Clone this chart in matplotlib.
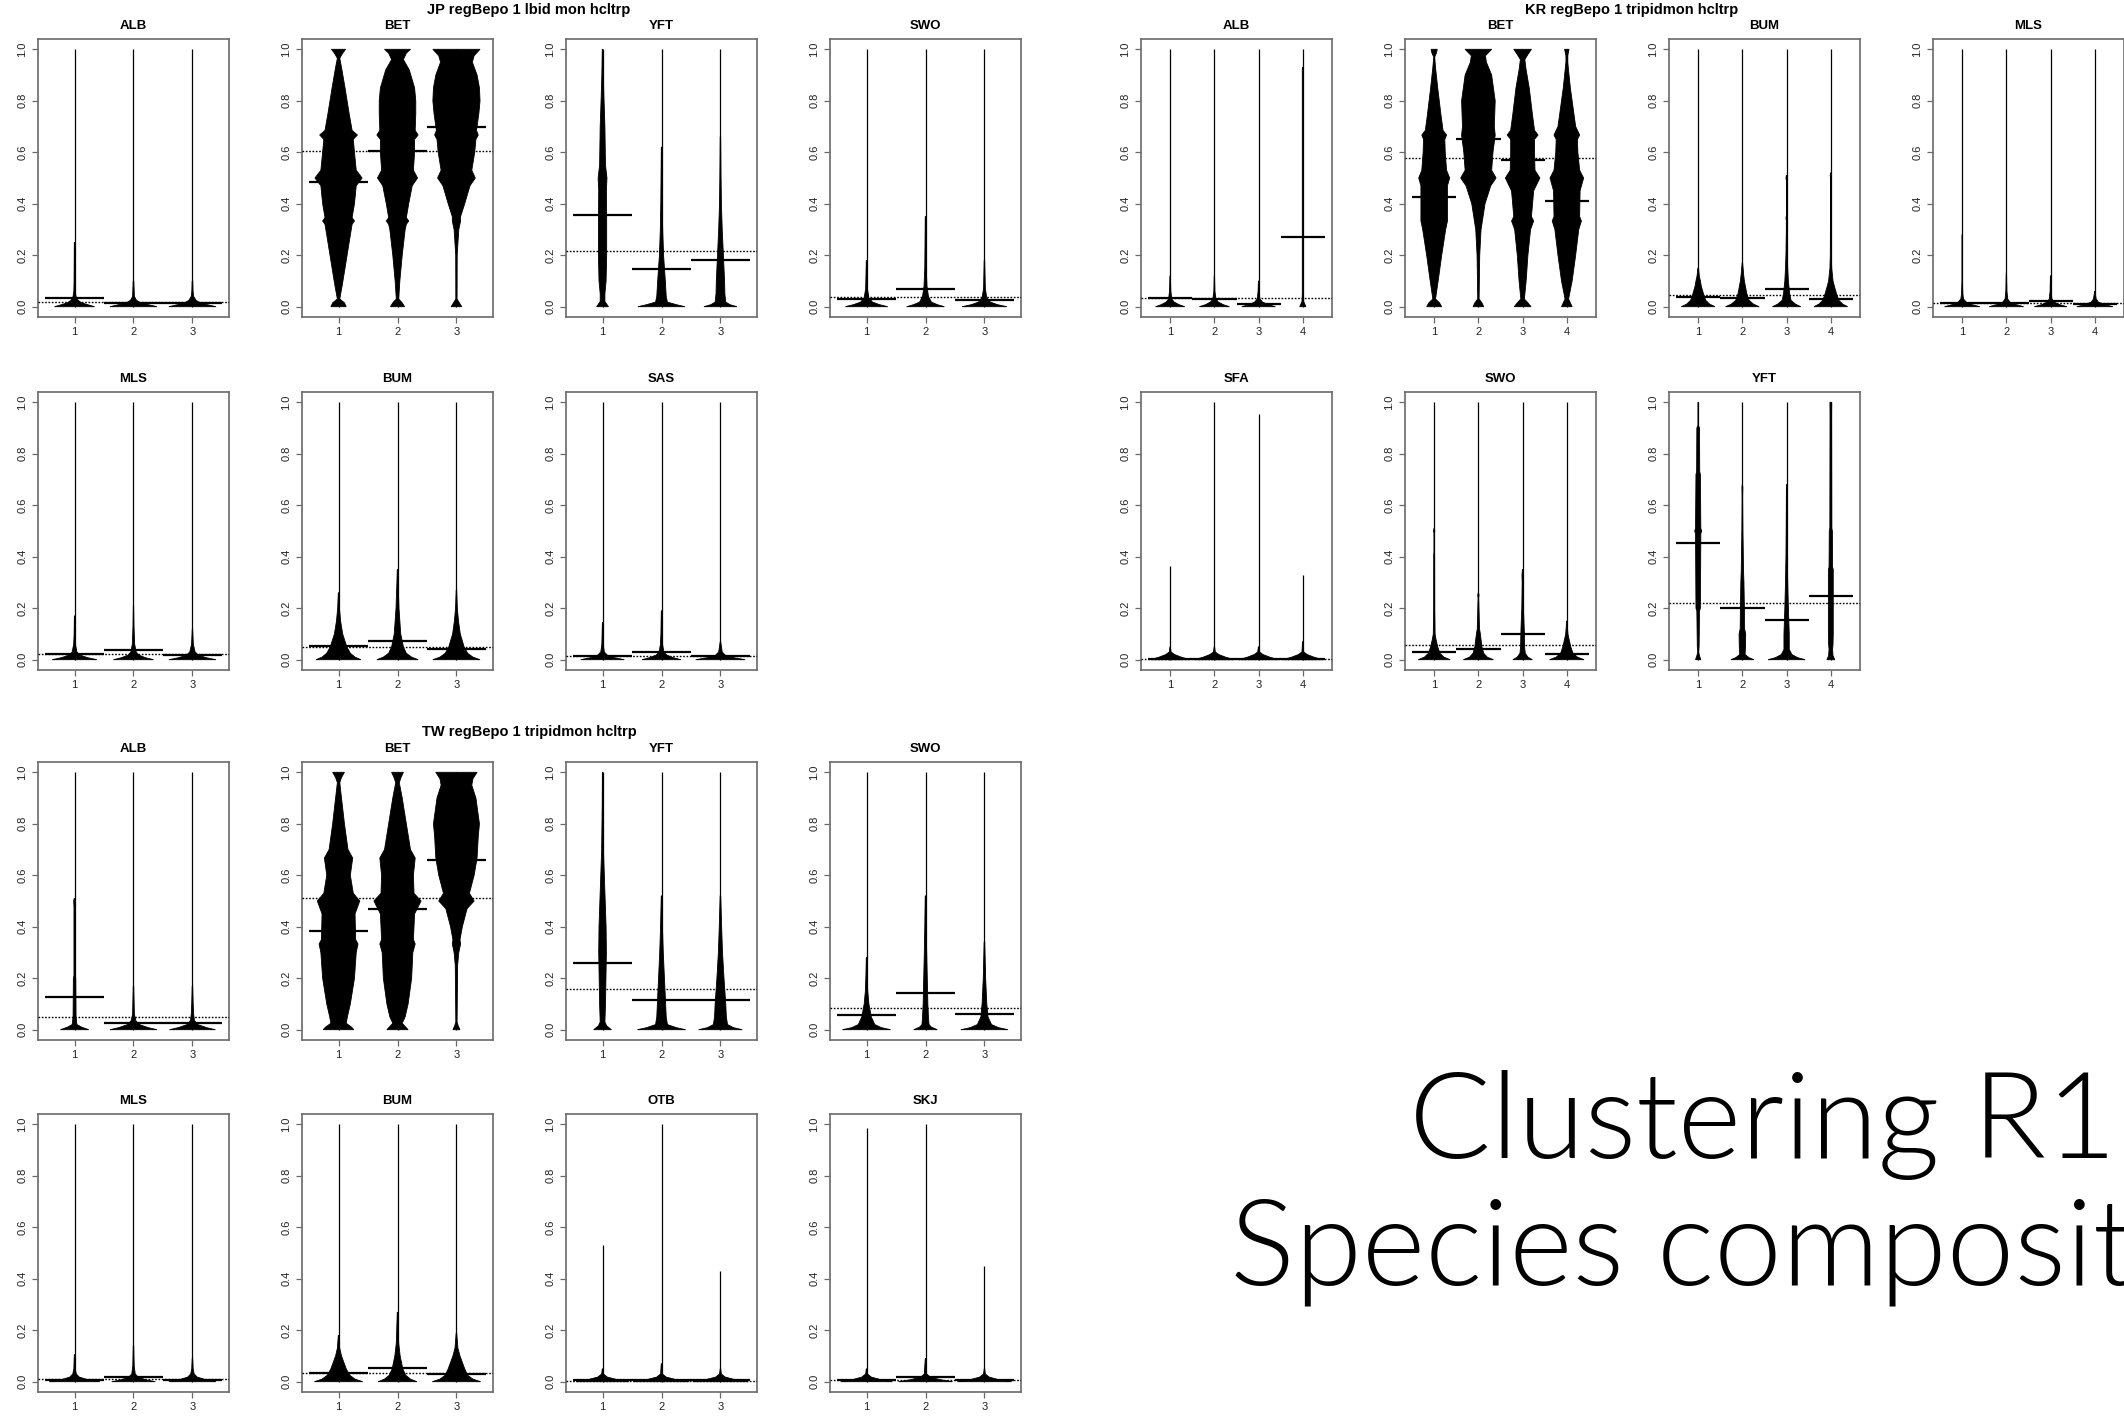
import matplotlib
matplotlib.use('Agg')
import matplotlib.pyplot as plt
from matplotlib import font_manager

plt.rcParams['font.family'] = ['Liberation Sans', 'DejaVu Sans']

# ---------------- data ----------------
# each bean: list of (y, half-width) profile points; TOPS = max value of the thin line
JP_ALB_MEANS = [0.035, 0.015, 0.013]; JP_ALB_OVERALL = 0.018; JP_ALB_TOPS = [1, 1, 1]
JP_ALB_BEANS = [
    [(0, 0.34), (0.008, 0.22), (0.015, 0.12), (0.025, 0.06), (0.04, 0.025), (0.06, 0.012), (0.1, 0.008), (0.25, 0.004)],
    [(0, 0.40), (0.008, 0.25), (0.015, 0.12), (0.025, 0.05), (0.04, 0.015), (0.1, 0.005)],
    [(0, 0.40), (0.008, 0.25), (0.015, 0.13), (0.025, 0.06), (0.04, 0.02), (0.06, 0.01), (0.1, 0.005)],
]
JP_BET_MEANS = [0.483, 0.605, 0.70]; JP_BET_OVERALL = 0.603; JP_BET_TOPS = [1, 1, 1]
JP_BET_BEANS = [
    [(0, 0.13), (0.015, 0.1), (0.03, 0.02), (0.08, 0.06), (0.15, 0.11), (0.25, 0.18), (0.32, 0.23), (0.333, 0.27), (0.346, 0.23),
     (0.4, 0.27), (0.47, 0.3), (0.5, 0.4), (0.53, 0.3), (0.6, 0.27), (0.65, 0.25), (0.667, 0.32), (0.685, 0.23), (0.75, 0.18),
     (0.85, 0.11), (0.93, 0.05), (0.965, 0.02), (0.985, 0.07), (1.0, 0.12)],
    [(0, 0.12), (0.015, 0.08), (0.03, 0.02), (0.1, 0.04), (0.2, 0.08), (0.3, 0.13), (0.32, 0.15), (0.333, 0.19), (0.346, 0.15),
     (0.4, 0.19), (0.47, 0.25), (0.5, 0.34), (0.53, 0.27), (0.6, 0.29), (0.65, 0.29), (0.667, 0.35), (0.685, 0.3), (0.75, 0.31),
     (0.8, 0.31), (0.85, 0.29), (0.92, 0.2), (0.96, 0.1), (0.985, 0.15), (1.0, 0.22)],
    [(0, 0.09), (0.015, 0.05), (0.03, 0.01), (0.2, 0.012), (0.3, 0.04), (0.333, 0.07), (0.35, 0.07), (0.4, 0.14), (0.47, 0.23),
     (0.5, 0.32), (0.53, 0.26), (0.6, 0.31), (0.65, 0.33), (0.667, 0.37), (0.685, 0.34), (0.75, 0.38), (0.8, 0.4), (0.85, 0.39),
     (0.9, 0.35), (0.95, 0.27), (0.975, 0.3), (1.0, 0.4)],
]
JP_YFT_MEANS = [0.355, 0.145, 0.18]; JP_YFT_OVERALL = 0.218; JP_YFT_TOPS = [1, 1, 1]
JP_YFT_BEANS = [
    [(0, 0.1), (0.02, 0.04), (0.05, 0.04), (0.1, 0.06), (0.2, 0.07), (0.35, 0.07), (0.45, 0.065), (0.5, 0.075), (0.55, 0.05),
     (0.7, 0.04), (0.8, 0.025), (0.9, 0.012), (1.0, 0.005)],
    [(0, 0.40), (0.008, 0.25), (0.018, 0.1), (0.04, 0.08), (0.1, 0.065), (0.15, 0.05), (0.2, 0.035), (0.3, 0.02), (0.4, 0.012),
     (0.5, 0.008), (0.62, 0.003)],
    [(0, 0.28), (0.008, 0.16), (0.018, 0.09), (0.05, 0.075), (0.1, 0.07), (0.2, 0.05), (0.3, 0.03), (0.4, 0.016), (0.5, 0.01),
     (0.66, 0.004)],
]
JP_SWO_MEANS = [0.03, 0.07, 0.025]; JP_SWO_OVERALL = 0.037; JP_SWO_TOPS = [1, 1, 1]
JP_SWO_BEANS = [
    [(0, 0.36), (0.008, 0.22), (0.018, 0.1), (0.035, 0.04), (0.07, 0.015), (0.18, 0.004)],
    [(0, 0.32), (0.008, 0.2), (0.018, 0.1), (0.04, 0.05), (0.08, 0.025), (0.15, 0.012), (0.35, 0.004)],
    [(0, 0.38), (0.008, 0.22), (0.018, 0.1), (0.035, 0.04), (0.07, 0.015), (0.18, 0.004)],
]
JP_MLS_MEANS = [0.022, 0.039, 0.019]; JP_MLS_OVERALL = 0.022; JP_MLS_TOPS = [1, 1, 1]
JP_MLS_BEANS = [
    [(0, 0.38), (0.008, 0.22), (0.018, 0.09), (0.03, 0.04), (0.06, 0.015), (0.1, 0.007), (0.17, 0.003)],
    [(0, 0.34), (0.008, 0.2), (0.018, 0.09), (0.03, 0.045), (0.06, 0.02), (0.13, 0.008), (0.21, 0.003)],
    [(0, 0.40), (0.008, 0.23), (0.018, 0.1), (0.03, 0.045), (0.06, 0.015), (0.12, 0.003)],
]
JP_BUM_MEANS = [0.054, 0.073, 0.041]; JP_BUM_OVERALL = 0.051; JP_BUM_TOPS = [1, 1, 1]
JP_BUM_BEANS = [
    [(0, 0.38), (0.01, 0.28), (0.025, 0.2), (0.05, 0.14), (0.1, 0.07), (0.15, 0.035), (0.2, 0.015), (0.26, 0.004)],
    [(0, 0.35), (0.01, 0.24), (0.025, 0.15), (0.05, 0.1), (0.1, 0.055), (0.2, 0.025), (0.3, 0.01), (0.35, 0.004)],
    [(0, 0.40), (0.01, 0.28), (0.025, 0.19), (0.05, 0.13), (0.1, 0.065), (0.15, 0.035), (0.2, 0.015), (0.27, 0.004)],
]
JP_SAS_MEANS = [0.013, 0.031, 0.013]; JP_SAS_OVERALL = 0.015; JP_SAS_TOPS = [1, 1, 1]
JP_SAS_BEANS = [
    [(0, 0.37), (0.008, 0.2), (0.018, 0.08), (0.03, 0.03), (0.06, 0.012), (0.145, 0.003)],
    [(0, 0.33), (0.008, 0.2), (0.018, 0.09), (0.03, 0.04), (0.06, 0.018), (0.1, 0.01), (0.19, 0.003)],
    [(0, 0.42), (0.008, 0.22), (0.018, 0.08), (0.03, 0.03), (0.07, 0.004)],
]

KR_ALB_MEANS = [0.035, 0.028, 0.012, 0.27]; KR_ALB_OVERALL = 0.032; KR_ALB_TOPS = [1, 1, 1, 1]
KR_ALB_BEANS = [
    [(0, 0.33), (0.008, 0.2), (0.018, 0.09), (0.03, 0.035), (0.06, 0.015), (0.12, 0.005)],
    [(0, 0.34), (0.008, 0.2), (0.018, 0.09), (0.03, 0.035), (0.06, 0.012), (0.12, 0.004)],
    [(0, 0.38), (0.008, 0.22), (0.018, 0.09), (0.03, 0.03), (0.06, 0.012), (0.10, 0.004)],
    [(0, 0.07), (0.02, 0.02), (0.05, 0.012), (0.92, 0.012), (0.93, 0.005)],
]
KR_BET_MEANS = [0.425, 0.65, 0.57, 0.41]; KR_BET_OVERALL = 0.578; KR_BET_TOPS = [1, 1, 1, 1]
KR_BET_BEANS = [
    [(0, 0.17), (0.015, 0.12), (0.03, 0.03), (0.1, 0.09), (0.2, 0.17), (0.3, 0.26), (0.333, 0.3), (0.4, 0.3), (0.47, 0.3),
     (0.5, 0.35), (0.53, 0.28), (0.6, 0.25), (0.65, 0.24), (0.667, 0.28), (0.685, 0.2), (0.75, 0.15), (0.85, 0.08),
     (0.93, 0.03), (0.97, 0.01), (0.985, 0.05), (1.0, 0.07)],
    [(0, 0.12), (0.015, 0.08), (0.03, 0.015), (0.2, 0.03), (0.3, 0.06), (0.333, 0.09), (0.4, 0.15), (0.47, 0.28), (0.5, 0.4),
     (0.53, 0.3), (0.6, 0.33), (0.667, 0.38), (0.7, 0.36), (0.8, 0.38), (0.9, 0.3), (0.95, 0.18), (0.975, 0.16), (1.0, 0.3)],
    [(0, 0.19), (0.015, 0.12), (0.03, 0.04), (0.1, 0.08), (0.2, 0.12), (0.3, 0.18), (0.333, 0.25), (0.35, 0.2), (0.45, 0.25),
     (0.5, 0.39), (0.53, 0.28), (0.6, 0.27), (0.65, 0.27), (0.667, 0.35), (0.685, 0.27), (0.75, 0.22), (0.85, 0.15),
     (0.92, 0.08), (0.96, 0.05), (0.98, 0.12), (1.0, 0.2)],
    [(0, 0.12), (0.015, 0.08), (0.03, 0.04), (0.1, 0.12), (0.2, 0.2), (0.3, 0.27), (0.333, 0.33), (0.35, 0.29), (0.45, 0.3),
     (0.5, 0.38), (0.53, 0.29), (0.6, 0.25), (0.65, 0.24), (0.667, 0.29), (0.7, 0.2), (0.75, 0.16), (0.85, 0.08),
     (0.95, 0.02), (0.975, 0.02), (1.0, 0.05)],
]
KR_BUM_MEANS = [0.037, 0.033, 0.067, 0.031]; KR_BUM_OVERALL = 0.044; KR_BUM_TOPS = [1, 1, 1, 1]
KR_BUM_BEANS = [
    [(0, 0.38), (0.01, 0.26), (0.025, 0.17), (0.05, 0.12), (0.08, 0.07), (0.1, 0.05), (0.12, 0.025), (0.15, 0.008)],
    [(0, 0.38), (0.01, 0.25), (0.025, 0.15), (0.05, 0.1), (0.1, 0.045), (0.13, 0.025), (0.17, 0.006)],
    [(0, 0.32), (0.01, 0.2), (0.025, 0.1), (0.05, 0.07), (0.1, 0.04), (0.15, 0.025), (0.2, 0.015), (0.3, 0.006),
     (0.335, 0.006), (0.345, 0.015), (0.355, 0.004), (0.49, 0.004), (0.5, 0.015), (0.51, 0.004)],
    [(0, 0.38), (0.01, 0.27), (0.025, 0.18), (0.05, 0.13), (0.08, 0.08), (0.1, 0.05), (0.15, 0.02), (0.2, 0.012),
     (0.44, 0.005), (0.5, 0.005), (0.51, 0.015), (0.52, 0.004)],
]
KR_MLS_MEANS = [0.013, 0.015, 0.024, 0.01]; KR_MLS_OVERALL = 0.013; KR_MLS_TOPS = [1, 1, 1, 1]
KR_MLS_BEANS = [
    [(0, 0.40), (0.008, 0.22), (0.018, 0.09), (0.03, 0.03), (0.05, 0.015), (0.1, 0.005), (0.28, 0.004)],
    [(0, 0.39), (0.008, 0.22), (0.018, 0.08), (0.03, 0.03), (0.06, 0.012), (0.13, 0.004)],
    [(0, 0.37), (0.008, 0.2), (0.018, 0.08), (0.03, 0.03), (0.06, 0.012), (0.12, 0.004)],
    [(0, 0.41), (0.008, 0.22), (0.018, 0.08), (0.03, 0.03), (0.06, 0.004)],
]
KR_SFA_MEANS = [0.003, 0.003, 0.003, 0.003]; KR_SFA_OVERALL = 0.002; KR_SFA_TOPS = [0.365, 1.0, 0.955, 0.33]
KR_SFA_BEANS = [
    [(0, 0.45), (0.01, 0.25), (0.02, 0.1), (0.03, 0.02), (0.05, 0.005)],
    [(0, 0.45), (0.01, 0.25), (0.02, 0.1), (0.03, 0.02), (0.05, 0.005)],
    [(0, 0.45), (0.01, 0.25), (0.02, 0.1), (0.03, 0.02), (0.05, 0.005)],
    [(0, 0.45), (0.01, 0.25), (0.02, 0.1), (0.03, 0.02), (0.07, 0.006)],
]
KR_SWO_MEANS = [0.028, 0.042, 0.10, 0.024]; KR_SWO_OVERALL = 0.057; KR_SWO_TOPS = [1, 1, 1, 1]
KR_SWO_BEANS = [
    [(0, 0.36), (0.01, 0.22), (0.025, 0.13), (0.05, 0.08), (0.08, 0.04), (0.1, 0.02), (0.2, 0.012), (0.41, 0.01),
     (0.42, 0.004), (0.49, 0.004), (0.5, 0.015), (0.51, 0.004)],
    [(0, 0.34), (0.01, 0.2), (0.025, 0.12), (0.05, 0.08), (0.1, 0.045), (0.12, 0.025), (0.22, 0.01), (0.24, 0.006),
     (0.25, 0.015), (0.26, 0.004)],
    [(0, 0.22), (0.01, 0.12), (0.025, 0.06), (0.05, 0.045), (0.1, 0.04), (0.15, 0.03), (0.2, 0.018), (0.3, 0.01),
     (0.33, 0.015), (0.35, 0.004)],
    [(0, 0.39), (0.01, 0.24), (0.025, 0.14), (0.05, 0.09), (0.08, 0.05), (0.1, 0.025), (0.15, 0.004)],
]
KR_YFT_MEANS = [0.454, 0.202, 0.154, 0.247]; KR_YFT_OVERALL = 0.221; KR_YFT_TOPS = [1, 1, 1, 1]
KR_YFT_BEANS = [
    [(0, 0.06), (0.015, 0.03), (0.03, 0.01), (0.05, 0.02), (0.19, 0.03), (0.2, 0.05), (0.49, 0.06), (0.5, 0.08),
     (0.51, 0.06), (0.72, 0.05), (0.73, 0.035), (0.9, 0.03), (0.91, 0.005), (1.0, 0.004)],
    [(0, 0.26), (0.008, 0.15), (0.02, 0.06), (0.05, 0.07), (0.1, 0.075), (0.12, 0.05), (0.2, 0.045), (0.3, 0.035),
     (0.35, 0.025), (0.5, 0.012), (0.63, 0.006), (0.67, 0.01), (0.68, 0.003)],
    [(0, 0.42), (0.008, 0.25), (0.02, 0.12), (0.04, 0.06), (0.1, 0.06), (0.2, 0.04), (0.3, 0.025), (0.4, 0.015),
     (0.5, 0.01), (0.68, 0.004)],
    [(0, 0.09), (0.015, 0.05), (0.04, 0.04), (0.06, 0.05), (0.1, 0.055), (0.35, 0.055), (0.36, 0.04), (0.5, 0.035),
     (0.51, 0.022), (0.95, 0.018), (1.0, 0.02)],
]

TW_ALB_MEANS = [0.128, 0.026, 0.026]; TW_ALB_OVERALL = 0.051; TW_ALB_TOPS = [1, 1, 1]
TW_ALB_BEANS = [
    [(0, 0.24), (0.01, 0.12), (0.02, 0.04), (0.05, 0.025), (0.2, 0.02), (0.21, 0.01), (0.48, 0.01), (0.5, 0.015), (0.51, 0.005)],
    [(0, 0.4), (0.008, 0.25), (0.02, 0.1), (0.035, 0.04), (0.06, 0.015), (0.17, 0.004)],
    [(0, 0.39), (0.008, 0.24), (0.02, 0.09), (0.035, 0.035), (0.06, 0.02), (0.1, 0.012), (0.17, 0.004)],
]
TW_BET_MEANS = [0.385, 0.469, 0.661]; TW_BET_OVERALL = 0.513; TW_BET_TOPS = [1, 1, 1]
TW_BET_BEANS = [
    [(0, 0.26), (0.01, 0.22), (0.025, 0.13), (0.05, 0.15), (0.1, 0.2), (0.2, 0.27), (0.3, 0.3), (0.333, 0.33), (0.35, 0.29),
     (0.45, 0.28), (0.5, 0.36), (0.53, 0.25), (0.6, 0.2), (0.667, 0.24), (0.7, 0.16), (0.8, 0.1), (0.9, 0.05), (0.96, 0.02),
     (0.98, 0.05), (1.0, 0.1)],
    [(0, 0.18), (0.01, 0.14), (0.025, 0.08), (0.05, 0.13), (0.1, 0.18), (0.2, 0.24), (0.3, 0.26), (0.333, 0.3), (0.35, 0.27),
     (0.45, 0.29), (0.5, 0.4), (0.53, 0.28), (0.6, 0.27), (0.667, 0.3), (0.7, 0.22), (0.8, 0.15), (0.9, 0.08), (0.96, 0.03),
     (0.98, 0.06), (1.0, 0.1)],
    [(0, 0.06), (0.015, 0.03), (0.03, 0.01), (0.25, 0.02), (0.3, 0.04), (0.333, 0.07), (0.35, 0.06), (0.4, 0.1), (0.47, 0.18),
     (0.5, 0.3), (0.53, 0.22), (0.6, 0.3), (0.667, 0.35), (0.75, 0.37), (0.8, 0.39), (0.9, 0.33), (0.95, 0.26),
     (0.975, 0.28), (1.0, 0.35)],
]
TW_YFT_MEANS = [0.26, 0.115, 0.115]; TW_YFT_OVERALL = 0.158; TW_YFT_TOPS = [1, 1, 1]
TW_YFT_BEANS = [
    [(0, 0.15), (0.015, 0.07), (0.03, 0.04), (0.1, 0.05), (0.3, 0.065), (0.4, 0.06), (0.5, 0.045), (0.6, 0.03), (0.7, 0.015),
     (0.87, 0.006), (1.0, 0.003)],
    [(0, 0.41), (0.008, 0.25), (0.02, 0.1), (0.05, 0.08), (0.1, 0.07), (0.2, 0.05), (0.3, 0.03), (0.4, 0.016), (0.52, 0.004)],
    [(0, 0.37), (0.008, 0.22), (0.02, 0.12), (0.05, 0.1), (0.1, 0.09), (0.2, 0.06), (0.3, 0.035), (0.4, 0.02), (0.52, 0.005)],
]
TW_SWO_MEANS = [0.058, 0.142, 0.062]; TW_SWO_OVERALL = 0.083; TW_SWO_TOPS = [1, 1, 1]
TW_SWO_BEANS = [
    [(0, 0.41), (0.008, 0.25), (0.02, 0.14), (0.05, 0.08), (0.1, 0.04), (0.15, 0.02), (0.2, 0.012), (0.28, 0.004)],
    [(0, 0.2), (0.01, 0.1), (0.02, 0.06), (0.05, 0.05), (0.1, 0.04), (0.2, 0.03), (0.3, 0.02), (0.4, 0.012), (0.52, 0.005)],
    [(0, 0.4), (0.008, 0.24), (0.02, 0.12), (0.05, 0.06), (0.1, 0.04), (0.2, 0.02), (0.34, 0.005)],
]
TW_MLS_MEANS = [0.008, 0.019, 0.008]; TW_MLS_OVERALL = 0.009; TW_MLS_TOPS = [1, 1, 1]
TW_MLS_BEANS = [
    [(0, 0.43), (0.008, 0.22), (0.018, 0.08), (0.03, 0.03), (0.05, 0.012), (0.105, 0.004)],
    [(0, 0.37), (0.008, 0.2), (0.018, 0.08), (0.03, 0.03), (0.06, 0.012), (0.14, 0.004)],
    [(0, 0.4), (0.008, 0.22), (0.018, 0.08), (0.03, 0.03), (0.05, 0.012), (0.09, 0.004)],
]
TW_BUM_MEANS = [0.032, 0.054, 0.028]; TW_BUM_OVERALL = 0.035; TW_BUM_TOPS = [1, 1, 1]
TW_BUM_BEANS = [
    [(0, 0.41), (0.01, 0.28), (0.025, 0.19), (0.05, 0.13), (0.1, 0.05), (0.13, 0.02), (0.18, 0.004)],
    [(0, 0.33), (0.01, 0.22), (0.025, 0.14), (0.05, 0.09), (0.1, 0.045), (0.15, 0.02), (0.27, 0.004)],
    [(0, 0.41), (0.01, 0.28), (0.025, 0.19), (0.05, 0.14), (0.1, 0.06), (0.13, 0.025), (0.19, 0.004)],
]
TW_OTB_MEANS = [0.005, 0.007, 0.005]; TW_OTB_OVERALL = 0.003; TW_OTB_TOPS = [0.53, 1.0, 0.43]
TW_OTB_BEANS = [
    [(0, 0.45), (0.008, 0.25), (0.018, 0.08), (0.03, 0.015), (0.05, 0.004)],
    [(0, 0.47), (0.008, 0.25), (0.018, 0.08), (0.03, 0.015), (0.07, 0.004)],
    [(0, 0.47), (0.008, 0.25), (0.018, 0.08), (0.03, 0.015), (0.05, 0.004)],
]
TW_SKJ_MEANS = [0.005, 0.018, 0.005]; TW_SKJ_OVERALL = 0.007; TW_SKJ_TOPS = [0.985, 1.0, 0.45]
TW_SKJ_BEANS = [
    [(0, 0.44), (0.008, 0.24), (0.018, 0.08), (0.03, 0.015), (0.05, 0.004)],
    [(0, 0.46), (0.008, 0.25), (0.018, 0.08), (0.03, 0.02), (0.09, 0.004)],
    [(0, 0.46), (0.008, 0.24), (0.018, 0.08), (0.03, 0.015), (0.05, 0.004)],
]

BLOCK_TITLES = ["JP regBepo 1 lbid mon hcltrp", "KR regBepo 1 tripidmon hcltrp", "TW regBepo 1 tripidmon hcltrp"]
Y_TICKS = [0.0, 0.2, 0.4, 0.6, 0.8, 1.0]
SLIDE_TITLE = ["Clustering R1:", "Species composition"]

# ---------------- layout (pixels) ----------------
W, H = 2124, 1420
PW, PH = 191, 278
COLS_L = [38, 302, 566, 830]
COLS_R = [1141, 1405, 1669, 1933]
ROWS = [39, 392, 762, 1114]

PANELS = [
    ("ALB", COLS_L[0], ROWS[0], JP_ALB_MEANS, JP_ALB_OVERALL, JP_ALB_TOPS, JP_ALB_BEANS),
    ("BET", COLS_L[1], ROWS[0], JP_BET_MEANS, JP_BET_OVERALL, JP_BET_TOPS, JP_BET_BEANS),
    ("YFT", COLS_L[2], ROWS[0], JP_YFT_MEANS, JP_YFT_OVERALL, JP_YFT_TOPS, JP_YFT_BEANS),
    ("SWO", COLS_L[3], ROWS[0], JP_SWO_MEANS, JP_SWO_OVERALL, JP_SWO_TOPS, JP_SWO_BEANS),
    ("MLS", COLS_L[0], ROWS[1], JP_MLS_MEANS, JP_MLS_OVERALL, JP_MLS_TOPS, JP_MLS_BEANS),
    ("BUM", COLS_L[1], ROWS[1], JP_BUM_MEANS, JP_BUM_OVERALL, JP_BUM_TOPS, JP_BUM_BEANS),
    ("SAS", COLS_L[2], ROWS[1], JP_SAS_MEANS, JP_SAS_OVERALL, JP_SAS_TOPS, JP_SAS_BEANS),
    ("ALB", COLS_R[0], ROWS[0], KR_ALB_MEANS, KR_ALB_OVERALL, KR_ALB_TOPS, KR_ALB_BEANS),
    ("BET", COLS_R[1], ROWS[0], KR_BET_MEANS, KR_BET_OVERALL, KR_BET_TOPS, KR_BET_BEANS),
    ("BUM", COLS_R[2], ROWS[0], KR_BUM_MEANS, KR_BUM_OVERALL, KR_BUM_TOPS, KR_BUM_BEANS),
    ("MLS", COLS_R[3], ROWS[0], KR_MLS_MEANS, KR_MLS_OVERALL, KR_MLS_TOPS, KR_MLS_BEANS),
    ("SFA", COLS_R[0], ROWS[1], KR_SFA_MEANS, KR_SFA_OVERALL, KR_SFA_TOPS, KR_SFA_BEANS),
    ("SWO", COLS_R[1], ROWS[1], KR_SWO_MEANS, KR_SWO_OVERALL, KR_SWO_TOPS, KR_SWO_BEANS),
    ("YFT", COLS_R[2], ROWS[1], KR_YFT_MEANS, KR_YFT_OVERALL, KR_YFT_TOPS, KR_YFT_BEANS),
    ("ALB", COLS_L[0], ROWS[2], TW_ALB_MEANS, TW_ALB_OVERALL, TW_ALB_TOPS, TW_ALB_BEANS),
    ("BET", COLS_L[1], ROWS[2], TW_BET_MEANS, TW_BET_OVERALL, TW_BET_TOPS, TW_BET_BEANS),
    ("YFT", COLS_L[2], ROWS[2], TW_YFT_MEANS, TW_YFT_OVERALL, TW_YFT_TOPS, TW_YFT_BEANS),
    ("SWO", COLS_L[3], ROWS[2], TW_SWO_MEANS, TW_SWO_OVERALL, TW_SWO_TOPS, TW_SWO_BEANS),
    ("MLS", COLS_L[0], ROWS[3], TW_MLS_MEANS, TW_MLS_OVERALL, TW_MLS_TOPS, TW_MLS_BEANS),
    ("BUM", COLS_L[1], ROWS[3], TW_BUM_MEANS, TW_BUM_OVERALL, TW_BUM_TOPS, TW_BUM_BEANS),
    ("OTB", COLS_L[2], ROWS[3], TW_OTB_MEANS, TW_OTB_OVERALL, TW_OTB_TOPS, TW_OTB_BEANS),
    ("SKJ", COLS_L[3], ROWS[3], TW_SKJ_MEANS, TW_SKJ_OVERALL, TW_SKJ_TOPS, TW_SKJ_BEANS),
]

fig = plt.figure(figsize=(W / 100, H / 100), dpi=100)
fig.patch.set_facecolor('white')

BOX = '#6a6a6a'


def draw_panel(name, left, top, means, overall, tops, beans):
    ax = fig.add_axes([left / W, 1 - (top + PH) / H, PW / W, PH / H])
    n = len(means)
    ax.set_xlim(0.5 - 0.04 * n, n + 0.5 + 0.04 * n)
    ax.set_ylim(-0.04, 1.04)
    for i, (prof, ytop, m) in enumerate(zip(beans, tops, means)):
        c = i + 1
        ys = [p[0] for p in prof]
        ws = [p[1] for p in prof]
        ax.vlines(c, 0, ytop, color='black', lw=0.9, zorder=2)
        xs = [c - w for w in ws] + [c + w for w in ws[::-1]]
        yy = ys + ys[::-1]
        ax.fill(xs, yy, facecolor='black', edgecolor='black', lw=0.6, zorder=3)
        ax.hlines(m, c - 0.5, c + 0.5, color='black', lw=1.6, zorder=4)
    ax.axhline(overall, color='black', lw=1.0, ls=(0, (1.2, 1.2)), zorder=5)
    ax.set_yticks(Y_TICKS)
    ax.set_yticklabels(['%.1f' % t for t in Y_TICKS], rotation=90, va='center')
    ax.set_xticks(list(range(1, n + 1)))
    ax.set_xticklabels([str(k) for k in range(1, n + 1)])
    ax.tick_params(axis='both', length=4, width=0.9, color=BOX, labelsize=8, labelcolor='#222222', pad=3.5)
    for s in ax.spines.values():
        s.set_color(BOX)
        s.set_linewidth(1.2)
    fig.text((left + PW / 2) / W, 1 - (top - 13) / H, name, ha='center', va='center',
             fontsize=9.5, fontweight='bold')


for p in PANELS:
    draw_panel(*p)

fig.text(529 / W, 1 - 10 / H, BLOCK_TITLES[0], ha='center', va='center', fontsize=10.5, fontweight='bold')
fig.text(1632 / W, 1 - 10 / H, BLOCK_TITLES[1], ha='center', va='center', fontsize=10.5, fontweight='bold')
fig.text(529 / W, 1 - 732 / H, BLOCK_TITLES[2], ha='center', va='center', fontsize=10.5, fontweight='bold')

# slide title font: prefer a "light" (not hairline/thin) humanist face
title_fp = None
cands = font_manager.findSystemFonts()
for pref in ['Lato-Light.ttf', 'NotoSans-Light.ttf', 'OpenSans-Light.ttf', 'Lato-Regular.ttf']:
    hits = [f for f in cands if f.replace('\\', '/').split('/')[-1] == pref]
    if hits:
        title_fp = font_manager.FontProperties(fname=hits[0])
        break
if title_fp is None:
    title_fp = font_manager.FontProperties(family=['Lato', 'DejaVu Sans'])

renderer = fig.canvas.get_renderer()
probe = fig.text(0, 0, "Clustering R1", fontproperties=title_fp, fontsize=100)
wprobe = probe.get_window_extent(renderer).width
probe.remove()
fs = 100 * 708.0 / wprobe
fig.text(1409 / W, 1 - 1158 / H, SLIDE_TITLE[0], ha='left', va='baseline', fontproperties=title_fp, fontsize=fs)
fig.text(1230 / W, 1 - 1284 / H, SLIDE_TITLE[1], ha='left', va='baseline', fontproperties=title_fp, fontsize=fs)

fig.savefig('out.png', dpi=100, facecolor='white')
